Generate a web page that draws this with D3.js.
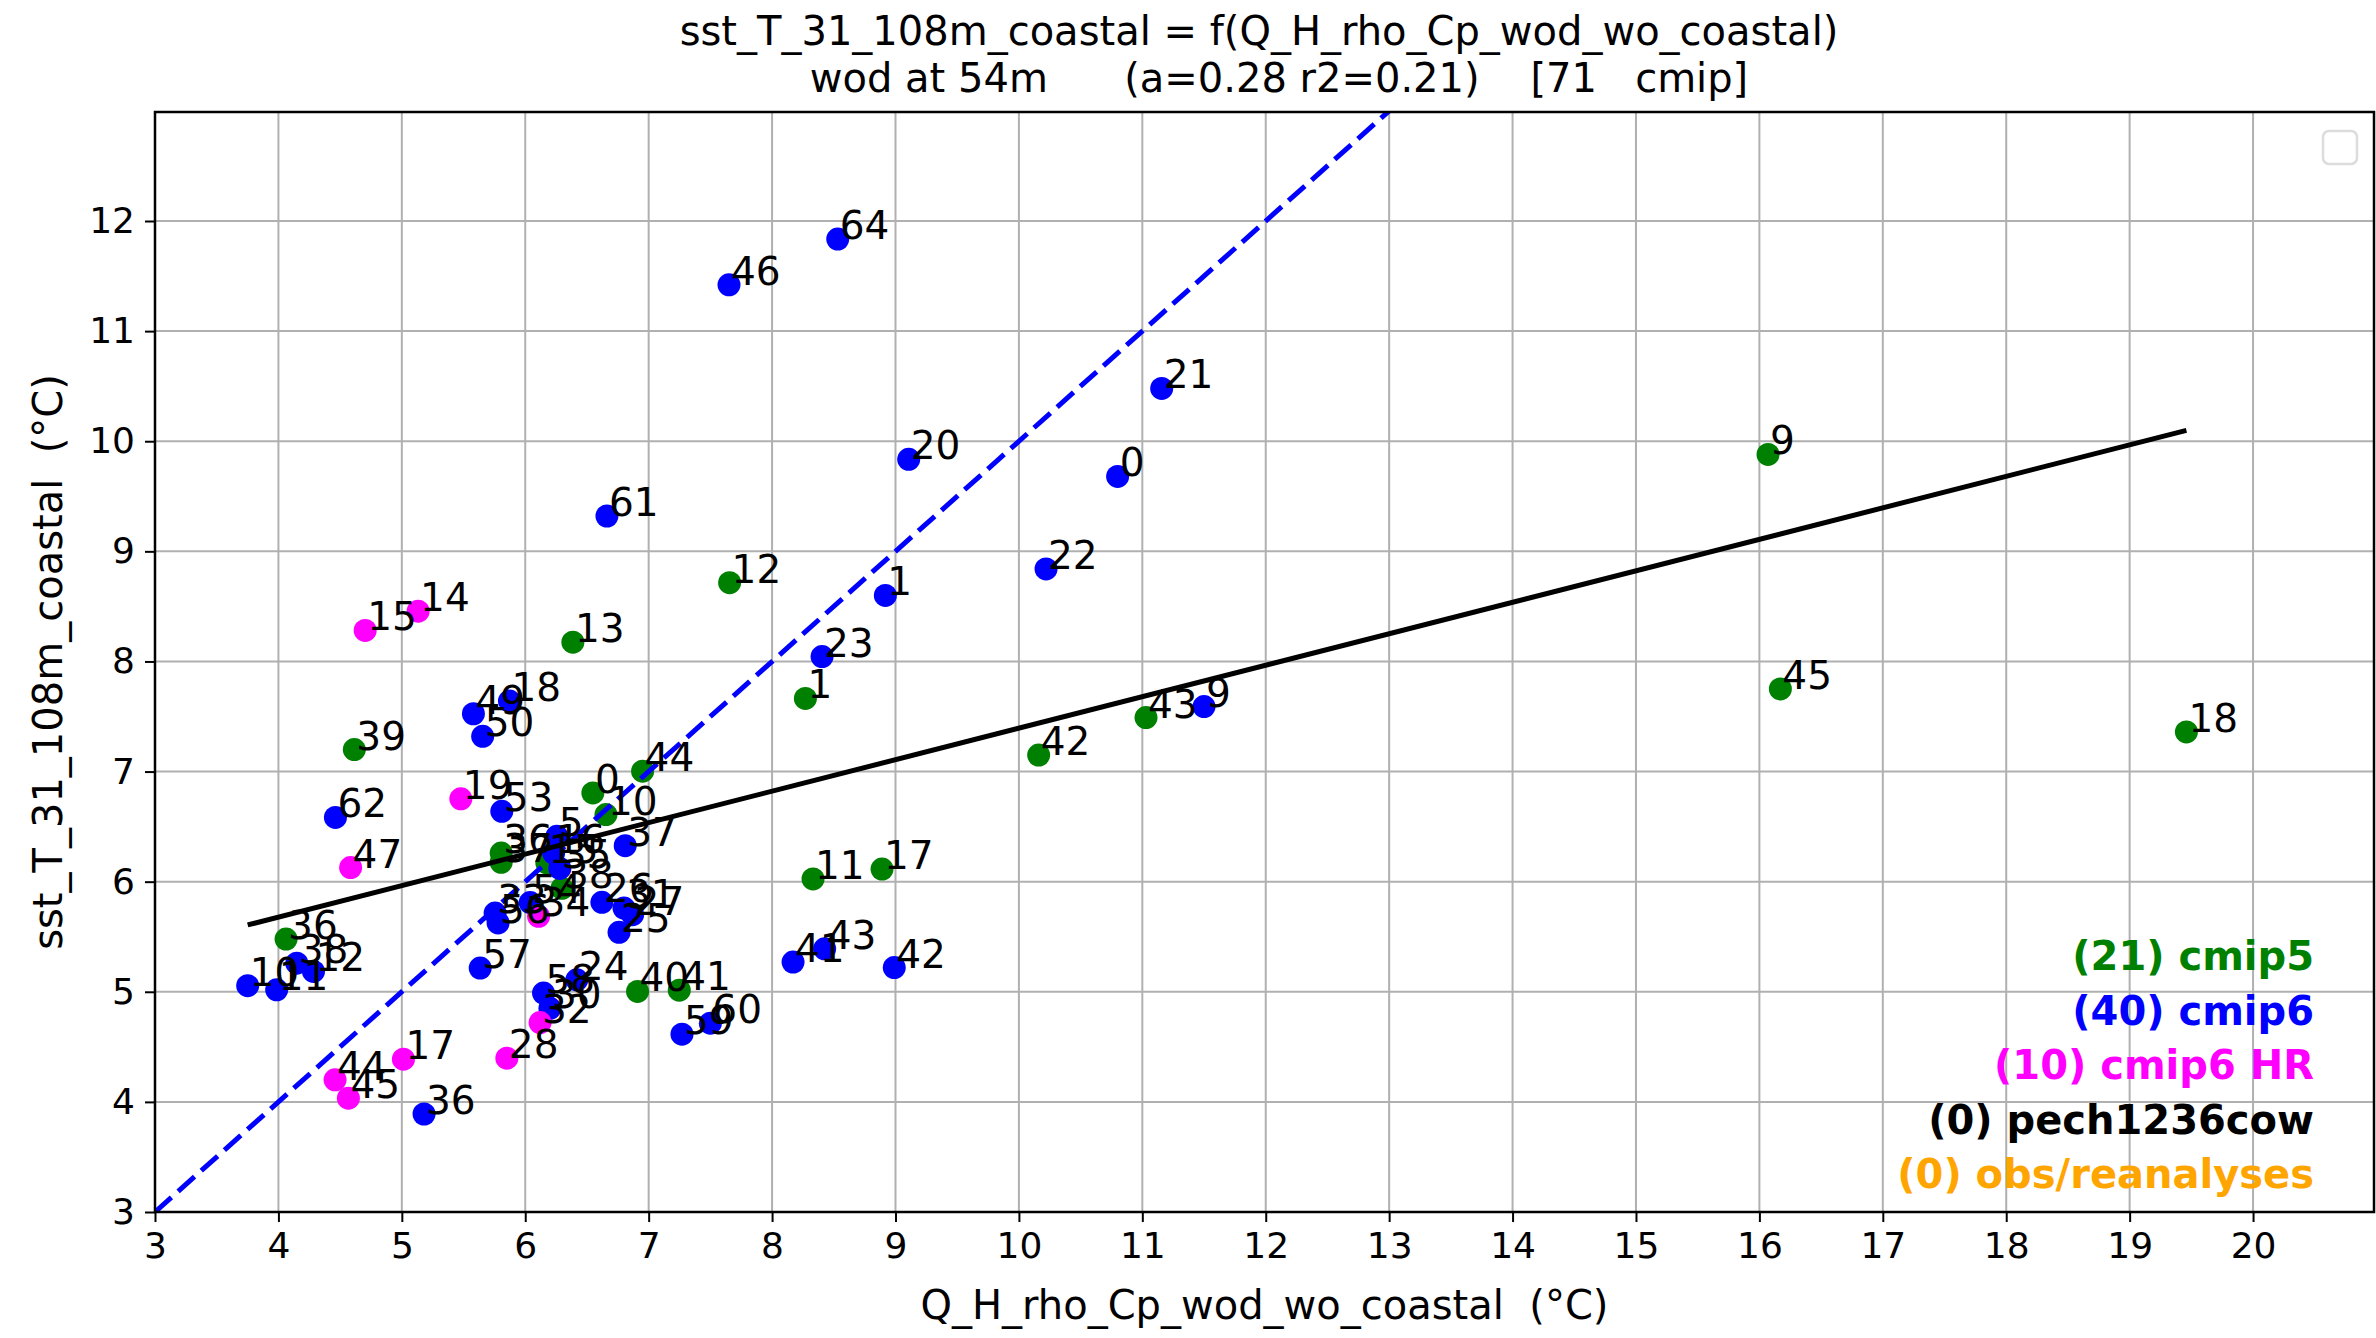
<!DOCTYPE html>
<html>
<head>
<meta charset="utf-8">
<script src="https://cdn.jsdelivr.net/npm/d3@7"></script>
<style>
  html, body { margin: 0; padding: 0; background: #fff; }
  svg text { font-family: "DejaVu Sans", sans-serif; white-space: pre; }
</style>
</head>
<body>
<svg id="chart" width="2376" height="1338"></svg>
<script>
// cmip5 models
const cmip5Labels = ["9","45","18","43","42","12","13","39","44","0","10","1","11","17","40","41","36","36","37","15","38"];
const cmip5X = [16.07,16.17,19.46,11.03,10.16,7.656,6.386,4.615,6.951,6.548,6.654,8.27,8.332,8.891,6.91,7.248,4.062,5.805,5.805,6.175,6.297];
const cmip5Y = [9.88,7.75,7.36,7.49,7.15,8.715,8.175,7.2,7.003,6.806,6.609,7.664,6.025,6.115,5.003,5.015,5.479,6.26,6.176,6.17,5.94];

// cmip6 models
const cmip6Labels = ["64","46","61","20","1","21","0","22","23","9","49","18","50","62","53","5","37","26","31","27","25","33","56","54","57","58","24","30","59","60","41","43","42","36","10","11","38","12","16","35"];
const cmip6X = [8.532,7.651,6.662,9.107,8.918,11.157,10.80,10.22,8.405,11.5,5.58,5.872,5.655,4.462,5.81,6.256,6.81,6.621,6.80,6.87,6.76,5.756,5.78,6.04,5.635,6.148,6.418,6.20,7.27,7.5,8.17,8.426,8.99,5.18,3.751,3.986,4.149,4.284,6.23,6.28];
const cmip6Y = [11.836,11.42,9.321,9.836,8.6,10.48,9.68,8.84,8.044,7.59,7.525,7.64,7.32,6.583,6.639,6.412,6.327,5.812,5.76,5.70,5.54,5.715,5.625,5.81,5.215,4.988,5.109,4.85,4.615,4.715,5.27,5.39,5.22,3.89,5.055,5.018,5.26,5.185,6.26,6.12];

// cmip6 high-resolution models
const cmip6hrLabels = ["15","14","19","47","17","44","45","28","34","32"];
const cmip6hrX = [4.703,5.132,5.478,4.585,5.013,4.459,4.567,5.851,6.108,6.12];
const cmip6hrY = [8.282,8.457,6.752,6.128,4.388,4.2,4.034,4.397,5.685,4.72];

// axis ticks
const xTicks = [3,4,5,6,7,8,9,10,11,12,13,14,15,16,17,18,19,20];
const yTicks = [3,4,5,6,7,8,9,10,11,12];

// legend entries
const legendNames = ["(21) cmip5","(40) cmip6","(10) cmip6 HR","(0) pech1236cow","(0) obs/reanalyses"];
const legendColors = ["#008000","#0000ff","#ff00ff","#000000","#ffa500"];

const titleLines = ["sst_T_31_108m_coastal = f(Q_H_rho_Cp_wod_wo_coastal)",
                    "wod at 54m      (a=0.28 r2=0.21)    [71   cmip]"];
const xLabel = "Q_H_rho_Cp_wod_wo_coastal  (°C)";
const yLabel = "sst_T_31_108m_coastal  (°C)";

const svg = d3.select("#chart");
const L = 155, R = 2374, T = 112, B = 1212;
const x = d3.scaleLinear().domain([3, 20.98]).range([L, R]);
const y = d3.scaleLinear().domain([3, 12.99]).range([B, T]);

svg.append("defs").append("clipPath").attr("id", "plotclip")
  .append("rect").attr("x", L).attr("y", T).attr("width", R - L).attr("height", B - T);

// grid
const grid = svg.append("g");
grid.selectAll(".vx").data(xTicks).enter().append("line")
  .attr("x1", d => x(d)).attr("x2", d => x(d)).attr("y1", T).attr("y2", B)
  .attr("stroke", "#b0b0b0").attr("stroke-width", 2);
grid.selectAll(".hy").data(yTicks).enter().append("line")
  .attr("x1", L).attr("x2", R).attr("y1", d => y(d)).attr("y2", d => y(d))
  .attr("stroke", "#b0b0b0").attr("stroke-width", 2);

const series = [
  {labels: cmip5Labels, xs: cmip5X, ys: cmip5Y, color: "#008000"},
  {labels: cmip6Labels, xs: cmip6X, ys: cmip6Y, color: "#0000ff"},
  {labels: cmip6hrLabels, xs: cmip6hrX, ys: cmip6hrY, color: "#ff00ff"}
];

const plot = svg.append("g").attr("clip-path", "url(#plotclip)");

// dots
series.forEach(s => {
  plot.append("g").selectAll("circle").data(s.xs.map((v, i) => [v, s.ys[i]])).enter()
    .append("circle")
    .attr("cx", d => x(d[0])).attr("cy", d => y(d[1])).attr("r", 11.5)
    .attr("fill", s.color);
});

// least-squares fit over all models
const allX = [].concat(cmip5X, cmip6X, cmip6hrX);
const allY = [].concat(cmip5Y, cmip6Y, cmip6hrY);
const mx = d3.mean(allX), my = d3.mean(allY);
let sxy = 0, sxx = 0;
allX.forEach((v, i) => { sxy += (v - mx) * (allY[i] - my); sxx += (v - mx) * (v - mx); });
const slope = sxy / sxx, icpt = my - slope * mx;
const [x0, x1] = d3.extent(allX);

// 1:1 line
plot.append("line")
  .attr("x1", x(3)).attr("y1", y(3)).attr("x2", x(14)).attr("y2", y(14))
  .attr("stroke", "#0000ff").attr("stroke-width", 5).attr("stroke-dasharray", "22,9");

// regression line
plot.append("line")
  .attr("x1", x(x0)).attr("y1", y(icpt + slope * x0))
  .attr("x2", x(x1)).attr("y2", y(icpt + slope * x1))
  .attr("stroke", "#000").attr("stroke-width", 5);

// model labels
series.forEach(s => {
  svg.append("g").selectAll("text").data(s.labels).enter().append("text")
    .attr("x", (d, i) => x(s.xs[i]) + 2).attr("y", (d, i) => y(s.ys[i]))
    .attr("font-size", 39).attr("fill", "#000").text(d => d);
});

// frame
svg.append("rect").attr("x", L).attr("y", T).attr("width", R - L).attr("height", B - T)
  .attr("fill", "none").attr("stroke", "#000").attr("stroke-width", 2.5);

// axes
const xAxis = svg.append("g").attr("transform", `translate(0,${B})`)
  .call(d3.axisBottom(x).tickValues(xTicks).tickSize(10).tickPadding(10).tickFormat(d3.format("d")));
const yAxis = svg.append("g").attr("transform", `translate(${L},0)`)
  .call(d3.axisLeft(y).tickValues(yTicks).tickSize(10).tickPadding(10).tickFormat(d3.format("d")));
[xAxis, yAxis].forEach(a => {
  a.select(".domain").remove();
  a.selectAll(".tick line").attr("stroke", "#000").attr("stroke-width", 2);
  a.selectAll(".tick text").attr("font-size", 36).attr("fill", "#000")
    .attr("font-family", "DejaVu Sans");
});

// empty legend frame
svg.append("rect").attr("x", 2323).attr("y", 131).attr("width", 34).attr("height", 33)
  .attr("rx", 6).attr("fill", "#fff").attr("stroke", "#dcdcdc").attr("stroke-width", 2.5);

// group counts
svg.append("g").selectAll("text").data(legendNames).enter().append("text")
  .attr("x", 2314).attr("y", (d, i) => 970 + i * 54.5)
  .attr("text-anchor", "end").attr("font-size", 40).attr("font-weight", "bold")
  .attr("fill", (d, i) => legendColors[i]).text(d => d);

// titles
const titleX = [1259, 1279];
svg.append("g").selectAll("text").data(titleLines).enter().append("text")
  .attr("x", (d, i) => titleX[i]).attr("y", (d, i) => 45 + i * 47)
  .attr("text-anchor", "middle").attr("font-size", 40).attr("fill", "#000").text(d => d);

svg.append("text").attr("x", (L + R) / 2).attr("y", 1319)
  .attr("text-anchor", "middle").attr("font-size", 40).attr("fill", "#000").text(xLabel);

svg.append("text").attr("transform", `translate(62,${(T + B) / 2}) rotate(-90)`)
  .attr("text-anchor", "middle").attr("font-size", 40).attr("fill", "#000").text(yLabel);
</script>
</body>
</html>
